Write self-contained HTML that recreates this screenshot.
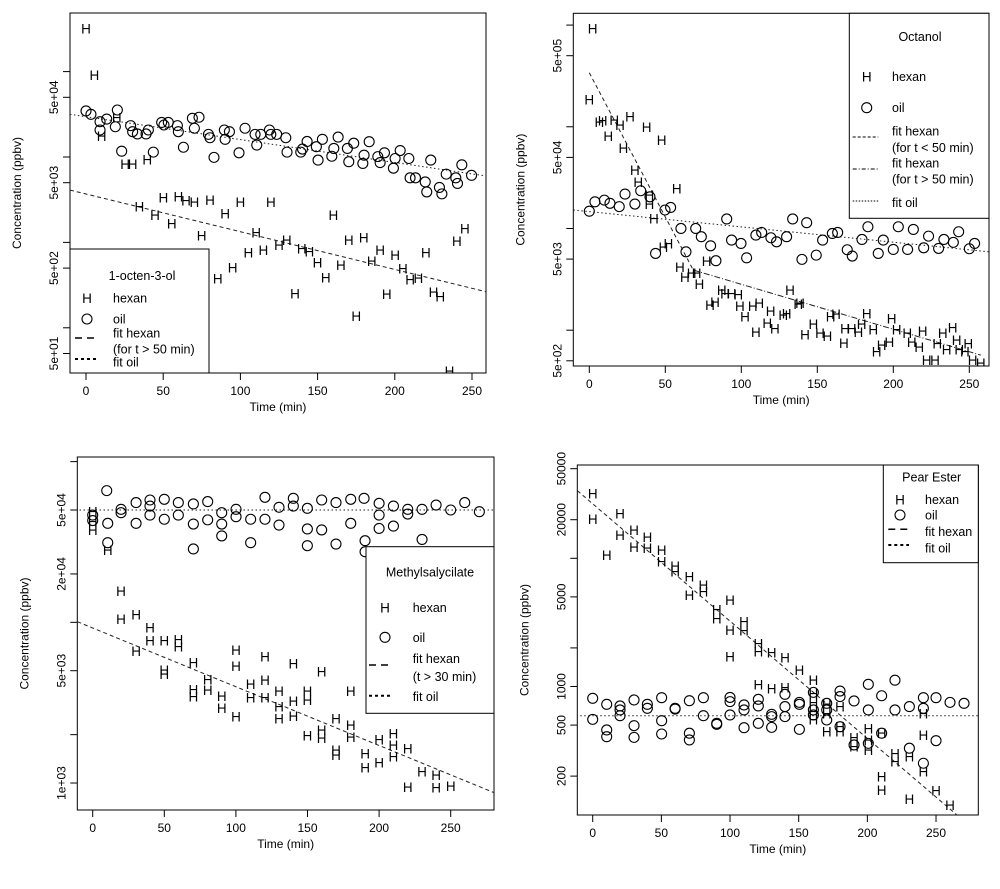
<!DOCTYPE html>
<html><head><meta charset="utf-8"><style>
html,body{margin:0;padding:0;background:#fff;}
svg{display:block;font-family:"Liberation Sans",Arial,sans-serif;}
</style></head><body>
<svg id="chart" width="1000" height="889" viewBox="0 0 1000 889"></svg>
<script>
// ---------- Panel 1: 1-octen-3-ol ----------
const p1HexT=[0,5.4,19.9,10.1,25.3,30.2,39.7,34.6,44.7,50.1,55.5,59.8,64.8,70.2,74.9,80.3,85.3,90.1,95,100,105.2,110.2,114.9,119.7,125,130,135.4,139.7,144.7,149.9,155.3,160.2,165.1,170.2,175,179.9,185.1,190.5,194.8,200.2,205.2,209.9,215.3,220.1,225.1,229.4,235.4,240.2,245.4];
const p1HexV=[320000,91000,29000,17600,8300,8300,9400,2620,2090,3370,1670,3430,3080,2990,1210,3130,378,2190,509,2990,757,1310,813,2990,931,1064,252,849,778,582,389,2085,542,1064,137,1143,604,813,248,716,496,368,385,757,264,231,31,1035,1460];
const p1OilT=[0,3.2,9.1,13.4,9.1,20.3,19,23.1,28.9,30.2,33.3,38.9,40.4,43.6,49,50.5,53.3,59.2,59.8,63.1,68.9,70.2,73.2,79.3,80.3,82.9,89.6,90.1,92.9,99.1,103,109.5,110.6,113.2,118.8,119.7,123.5,129.4,130.2,139.1,140.2,143.2,149.2,150.3,153.1,159.2,160.5,163.3,169.3,170.2,173.4,179.3,180.1,183.4,189,190.5,193.3,199.1,200.2,203.5,209.1,209.9,213.4,219.7,220.7,223.3,228.9,230.5,233.3,239.5,240.6,243.4,249.7];
const p1OilV=[34600,31600,25900,27800,20700,35500,22600,11700,23300,19800,18600,18600,20700,11400,25400,23700,25400,23300,19800,13000,28400,21700,29200,18400,16800,9900,20700,16100,19800,11200,21700,18400,13800,18400,20700,18400,18400,16800,11400,11400,12400,15200,13200,9200,16100,10200,12600,17100,12600,8800,14500,8400,10500,15100,10100,8600,11200,7400,9600,11900,9600,5700,5700,5100,3900,9200,4400,3700,6300,5700,4900,8100,6100];
const p1FitHexT=[-10.4,259.2], p1FitHexV=[4100,264];
const p1FitOilT=[-10.4,259.2], p1FitOilV=[31600,5990];
const p1XTicks=[0,50,100,150,200,250];
const p1YTicks=[1e5,5e4,1e4,5e3,1e3,5e2,1e2,5e1];
const p1YLabels=["","5e+04","","5e+03","","5e+02","","5e+01"];

// ---------- Panel 2: Octanol ----------
const p2HexT=[2.2,0,6.6,8.8,16.4,20.2,12.5,26.8,37.7,47.6,22.4,30,32.2,39.5,39.5,42.5,57.5,48.7,52,59.6,62.9,67.3,70.6,72.4,77.2,79.4,82.7,87.1,89.3,93.6,98,99.1,102.4,107.5,111.8,109.6,117.1,119.3,122.1,127.6,129.8,132,137.5,138.6,141.9,147.4,151.8,156.6,158.8,162.3,167.5,168.2,172.6,177,179.2,182.5,186.8,189,192.3,197.4,198.9,202.2,209.2,212.1,217.1,219.3,221.9,227.4,228.9,232.5,235.1,239,241.7,243.4,249.3,247.1,252.2,257.5];
const p2HexV=[929000,186000,112000,115000,116000,104000,81000,126000,100000,74000,62200,37500,28800,21300,17400,12600,24800,6600,7130,4200,3350,3670,3670,2840,4780,1770,1900,2480,2300,2300,2240,1730,1370,1730,1860,964,1180,1550,1040,1410,1460,2480,1800,1860,908,1150,942,875,1370,1440,752,1040,1040,964,1150,1460,1020,614,713,769,1300,1020,942,769,687,986,508,508,741,942,646,1060,798,646,741,614,508,478];
const p2OilT=[0,3.7,9.9,13.6,19.7,23.5,30,33.8,39.9,49.8,53.5,43.6,60.3,63.6,70,73.7,79.8,83.3,90.4,93.6,99.8,103.5,109.6,113.4,119.5,123.2,129.8,133.8,139.9,143,149.3,153.5,159.9,163.4,169.7,173,179.4,183.3,190.1,193.4,200,203.3,209.4,213.2,220,223.2,229.8,233.3,239.5,243,250,253.5];
const p2OilV=[14800,18300,19000,17700,16400,21800,17400,23500,20500,15200,16100,5690,10000,5900,10000,8300,6760,4820,12400,7690,7130,5150,8610,9140,8110,7400,8300,12400,4970,11400,5470,7690,8930,9140,6180,5360,7800,10400,5690,7690,6220,10400,6220,9790,6460,8410,6370,7800,7300,9290,6320,7130];
const p2FitHex1T=[0,68.4], p2FitHex1V=[340000,3900];
const p2FitHex2T=[68.4,257.5], p2FitHex2V=[3900,569];
const p2FitOilT=[-10.5,262.9], p2FitOilV=[15200,5900];
const p2XTicks=[0,50,100,150,200,250];
const p2YTicks=[1e6,5e5,1e5,5e4,1e4,5e3,1e3,5e2];
const p2YLabels=["","5e+05","","5e+04","","5e+03","","5e+02"];

// ---------- Panel 3: Methylsalycilate ----------
const p3HexT=[0,0,0,10.5,19.8,19.8,30.3,30.3,40,40,50,50,50,59.8,59.8,70.3,70.3,70.3,80.3,80.3,90.1,90.1,100.1,100.1,100.1,110.3,110.3,120.3,120.3,120.3,130.1,130.1,130.1,140.1,140.1,140.1,149.9,149.9,149.9,159.9,159.9,159.9,169.9,169.9,169.9,180.2,180.2,180.2,190.2,190.2,200,200,210,210,210,220,220,230,239.8,239.8,250];
const p3HexV=[48900,42400,37600,28200,15700,10500,11200,6630,9270,7690,7690,5050,4770,7830,7050,5610,3830,3450,4410,3790,3480,2940,6730,5350,2590,4130,3410,6110,4380,3410,3750,2990,2520,5560,3250,2620,3750,3280,1970,4930,2140,1900,2520,1600,1490,3750,2300,1940,1530,1250,1870,1340,2040,1720,1460,1640,948,1180,1120,940,957];
const p3OilT=[0,0,9.8,10.5,10.5,19.8,19.8,30.3,30.3,40,40,40,50,50,59.8,59.8,70.3,70.3,70.3,80.3,80.3,90.1,90.1,90.1,100.1,100.1,110.3,110.3,120.3,120.3,130.1,130.1,140.1,140.1,149.9,149.9,149.9,159.9,159.9,169.9,169.9,180.2,180.2,189.5,190.2,190.2,200,200,200,210,210,220,220,230,230,239.8,250,259.8,270];
const p3OilV=[46500,43000,66000,41300,31300,50500,48100,55600,41300,57700,46500,52900,58300,43800,55600,46500,54500,40900,28600,56400,43400,48100,40900,34500,50500,45400,43800,31300,60000,43800,52000,40300,59100,52900,51200,38100,30000,57700,37600,55600,30700,58300,41300,59100,32200,27500,55000,46500,38400,52900,39700,50500,47200,50500,32800,53700,50000,55600,48800];
const p3FitHexT=[-10.7,280.3], p3FitHexV=[10090,871];
const p3FitOilT=[-12,290], p3FitOilV=[50000,50000];
const p3XTicks=[0,50,100,150,200,250];
const p3YTicks=[1e5,5e4,2e4,1e4,5e3,2e3,1e3];
const p3YLabels=["","5e+04","2e+04","","5e+03","","1e+03"];

// ---------- Panel 4: Pear Ester ----------
const p4HexT=[0,0,10.2,19.9,19.9,30.1,30.1,39.8,39.8,50.2,50.2,60,60,70.4,70.4,80.6,80.6,90.3,90.3,100,100,100,110.2,110.2,120.6,120.6,120.6,130.3,130.3,140,140,150.5,160.7,160.7,160.7,160.7,160.7,170.4,170.4,170.4,180.1,180.1,180.1,190.3,190.3,200.7,200.7,200.7,210.4,210.4,210.4,220.1,220.1,230.6,230.6,240.8,240.8,240.8,250,260.2];
const p4HexV=[32100,20200,10600,22400,15200,16600,12200,14600,12000,11600,9420,8710,7870,7190,5180,6200,5500,4000,3400,4730,2760,1710,3210,2730,2170,1870,1040,1840,968,1690,986,1350,1120,885,748,637,555,730,618,445,696,486,445,401,339,472,383,320,432,198,156,301,259,284,132,618,419,217,154,119];
const p4OilT=[0,0,10.2,10.2,10.2,19.9,19.9,19.9,30.1,30.1,30.1,39.8,39.8,50.2,50.2,50.2,60,60,70.4,70.4,70.4,80.6,80.6,90.3,90.3,100,100,100,110.2,110.2,110.2,120.6,120.6,120.6,130.3,130.3,130.3,140,140,140,150.5,150.5,150.5,160.7,160.7,160.7,170.4,170.4,170.4,180.1,180.1,180.1,190.3,190.3,200.7,200.7,200.7,210.4,210.4,220.1,220.1,230.6,230.6,240.8,240.8,240.8,250,250,260.2,270.4];
const p4OilV=[809,554,726,458,406,705,656,592,785,495,401,726,676,818,541,426,676,667,775,432,383,818,592,516,507,822,762,600,718,656,477,794,705,516,607,582,480,869,697,582,752,726,463,900,656,600,739,656,548,922,834,486,771,350,1040,656,360,847,432,1120,656,697,330,818,676,252,378,818,752,739];
const p4FitHexT=[-11.2,265], p4FitHexV=[33700,100];
const p4FitOilT=[-12,290], p4FitOilV=[592,592];
const p4XTicks=[0,50,100,150,200,250];
const p4YTicks=[50000,20000,10000,5000,2000,1000,500,200];
const p4YLabels=["50000","20000","","5000","","1000","500","200"];

const NS="http://www.w3.org/2000/svg";
const svg=document.getElementById('chart');
function mk(tag,attrs,parent){const e=document.createElementNS(NS,tag);for(const k in attrs)e.setAttribute(k,attrs[k]);(parent||svg).appendChild(e);return e;}

function panel(cfg){
  const g=mk('g',{});
  
  
  const X=t=>cfg.x0+t*cfg.ppm;
  const Y=v=>cfg.yRef-cfg.dec*(Math.log10(v)-Math.log10(cfg.refV));
  const b=cfg.box;
  const cid='clip-'+cfg.name;
  const cp=mk('clipPath',{id:cid},g);
  mk('rect',{x:b[0],y:b[1],width:b[2]-b[0],height:b[3]-b[1]},cp);
  // axes box
  const box=mk('rect',{x:b[0],y:b[1],width:b[2]-b[0],height:b[3]-b[1],fill:'none',stroke:'#000','stroke-width':1},g);
  
  
  // x ticks
  cfg.xTicks.forEach(t=>{
    const l=mk('line',{x1:X(t),x2:X(t),y1:b[3],y2:b[3]+7,stroke:'#000'},g);
    
    
    const tx=mk('text',{x:X(t),y:b[3]+22,'font-size':12,'text-anchor':'middle'},g);
    
    
    tx.textContent=t;
  });
  cfg.yTicks.forEach((v,i)=>{
    const y=Y(v);
    const l=mk('line',{x1:b[0]-7,x2:b[0],y1:y,y2:y,stroke:'#000'},g);
    
    
    if(cfg.yLabels[i]){
      const tx=mk('text',{x:0,y:0,'font-size':12,'text-anchor':'middle',transform:`translate(${b[0]-12},${y}) rotate(-90)`},g);
      
      
      tx.textContent=cfg.yLabels[i];
    }
  });
  const xt=mk('text',{x:(b[0]+b[2])/2,y:b[3]+38,'font-size':12,'text-anchor':'middle'},g);
  
  
  xt.textContent='Time (min)';
  const yt=mk('text',{x:0,y:0,'font-size':12,'text-anchor':'middle',transform:`translate(${b[0]-49},${(b[1]+b[3])/2}) rotate(-90)`},g);
  
  
  yt.textContent='Concentration (ppbv)';
  // fits
  const cg=mk('g',{'clip-path':`url(#${cid})`},g);
  cfg.fits.forEach(f=>{
    const l=mk('line',{x1:X(f.t[0]),y1:Y(f.v[0]),x2:X(f.t[1]),y2:Y(f.v[1]),stroke:'#222','stroke-width':1,'stroke-dasharray':f.dash},cg);
    
    
  });
  // points
  cfg.oilT.forEach((t,i)=>{
    const c=mk('circle',{cx:X(t),cy:Y(cfg.oilV[i]),r:5,fill:'none',stroke:'#000','stroke-width':1.1},cg);
    
    
  });
  cfg.hexT.forEach((t,i)=>{
    const tx=mk('text',{x:X(t),y:Y(cfg.hexV[i])+5,'font-size':13.5,'text-anchor':'middle'},cg);
    
    
    tx.textContent='H';
  });
  // legend
  const L=cfg.legend;
  const lg=mk('g',{},g);
  
  
  mk('rect',{x:L.box[0],y:L.box[1],width:L.box[2]-L.box[0],height:L.box[3]-L.box[1],fill:'#fff',stroke:'#000'},lg);
  const title=mk('text',{x:L.title[1],y:L.title[2]+4,'font-size':12.5,'text-anchor':'middle'},lg);
  
  
  title.textContent=L.title[0];
  L.rows.forEach(r=>{
    if(r.sym){
      if(r.sym==='O'){mk('circle',{cx:L.symX,cy:r.y,r:5,fill:'none',stroke:'#000','stroke-width':1.1},lg);}
      else{const h=mk('text',{x:L.symX,y:r.y+5,'font-size':13.5,'text-anchor':'middle'},lg);h.textContent='H';}
    }
    if(r.line){
      const ln=mk('line',{x1:L.lineX[0],x2:L.lineX[1],y1:r.line[0],y2:r.line[0],stroke:'#000','stroke-width':r.line[2]||1,'stroke-dasharray':r.line[1]},lg);
      
      
    }
    const tx=mk('text',{x:L.textX,y:r.y+4.5,'font-size':12.5},lg);
    
    
    tx.textContent=r.text;
  });
}

panel({name:'panel-1-octen-3-ol',x0:86,ppm:1.544,yRef:97.3,refV:5e4,dec:85.4,box:[70,13,486,373],
  xTicks:p1XTicks,yTicks:p1YTicks,yLabels:p1YLabels,hexT:p1HexT,hexV:p1HexV,oilT:p1OilT,oilV:p1OilV,
  fits:[{name:'fit-hexan-line',t:p1FitHexT,v:p1FitHexV,dash:'4 3'},{name:'fit-oil-line',t:p1FitOilT,v:p1FitOilV,dash:'1.5 2.5'}],
  legend:{box:[70,249,209,373],title:['1-octen-3-ol',142,276],symX:87,textX:113,lineX:[75,97],
    rows:[{sym:'H',y:298,text:'hexan'},{sym:'O',y:319,text:'oil'},{y:333,text:'fit hexan',line:[338,'7 5',1.5]},{y:349,text:'(for t > 50 min)'},{y:362,text:'fit oil',line:[359,'3 3',2]}]}});

panel({name:'panel-octanol',x0:589.3,ppm:1.52,yRef:55.7,refV:5e5,dec:101.7,box:[573.3,13.3,989,366],
  xTicks:p2XTicks,yTicks:p2YTicks,yLabels:p2YLabels,hexT:p2HexT,hexV:p2HexV,oilT:p2OilT,oilV:p2OilV,
  fits:[{name:'fit-hexan-early-line',t:p2FitHex1T,v:p2FitHex1V,dash:'4 3'},{name:'fit-hexan-late-line',t:p2FitHex2T,v:p2FitHex2V,dash:'6 2 1 2'},{name:'fit-oil-line',t:p2FitOilT,v:p2FitOilV,dash:'1.5 2.5'}],
  legend:{box:[849.3,13.3,989,218.3],title:['Octanol',920,37],symX:866.7,textX:892,lineX:[852.7,878.3],
    rows:[{sym:'H',y:76.7,text:'hexan'},{sym:'O',y:107.7,text:'oil'},{y:131,text:'fit hexan',line:[137,'3 2']},{y:147.7,text:'(for t < 50 min)'},{y:163,text:'fit hexan',line:[169,'4 2 1 2']},{y:179,text:'(for t > 50 min)'},{y:202.7,text:'fit oil',line:[201,'1.5 1.5']}]}});

panel({name:'panel-methylsalycilate',x0:92.7,ppm:1.432,yRef:510,refV:5e4,dec:160.7,box:[77.3,457,494,810],
  xTicks:p3XTicks,yTicks:p3YTicks,yLabels:p3YLabels,hexT:p3HexT,hexV:p3HexV,oilT:p3OilT,oilV:p3OilV,
  fits:[{name:'fit-hexan-line',t:p3FitHexT,v:p3FitHexV,dash:'4 3'},{name:'fit-oil-line',t:p3FitOilT,v:p3FitOilV,dash:'1.5 2.5'}],
  legend:{box:[366,546.7,494,713.3],title:['Methylsalycilate',430,572.3],symX:385,textX:412.7,lineX:[369,393],
    rows:[{sym:'H',y:607.3,text:'hexan'},{sym:'O',y:637.3,text:'oil'},{y:658.3,text:'fit hexan',line:[665,'7 5',1.5]},{y:676.7,text:'(t > 30 min)'},{y:696.7,text:'fit oil',line:[695.7,'3 3',2]}]}});

panel({name:'panel-pear-ester',x0:592.7,ppm:1.3733,yRef:558.3,refV:1e4,dec:128.2,box:[577.3,465,978.3,815],
  xTicks:p4XTicks,yTicks:p4YTicks,yLabels:p4YLabels,hexT:p4HexT,hexV:p4HexV,oilT:p4OilT,oilV:p4OilV,
  fits:[{name:'fit-hexan-line',t:p4FitHexT,v:p4FitHexV,dash:'4 3'},{name:'fit-oil-line',t:p4FitOilT,v:p4FitOilV,dash:'1.5 2.5'}],
  legend:{box:[883.3,465,978.3,562.7],title:['Pear Ester',931.7,477.3],symX:900,textX:925,lineX:[888.3,909],
    rows:[{sym:'H',y:499.3,text:'hexan'},{sym:'O',y:515,text:'oil'},{y:531.7,text:'fit hexan',line:[529.3,'7 5',1.5]},{y:548,text:'fit oil',line:[545,'3 3',2]}]}});
</script>
</body></html>
